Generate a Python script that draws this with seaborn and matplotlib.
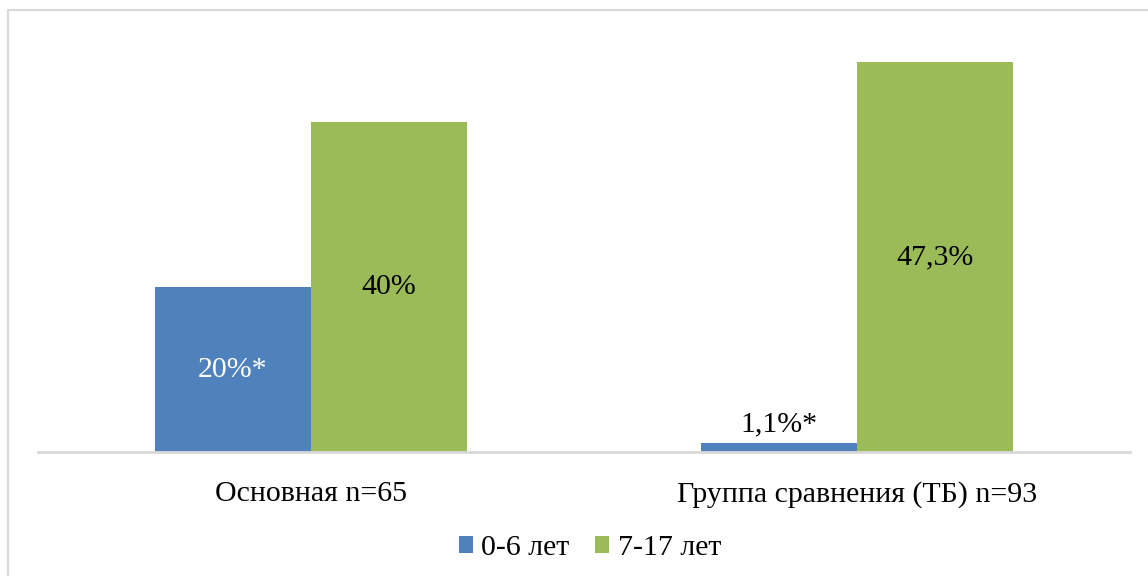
import matplotlib
matplotlib.use("Agg")
import matplotlib.pyplot as plt
import seaborn as sns
import pandas as pd
from matplotlib.patches import Rectangle

categories = ["Основная n=65", "Группа сравнения (ТБ) n=93"]
series_names = ["0-6 лет", "7-17 лет"]
values_0_6 = [20.0, 1.1]
values_7_17 = [40.0, 47.3]
labels_0_6 = ["20%*", "1,1%*"]
labels_7_17 = ["40%", "47,3%"]

sns.set_theme(style="white")
plt.rcParams['font.family'] = ['Liberation Serif', 'DejaVu Serif']
plt.rcParams['text.color'] = 'black'

df = pd.DataFrame({
    "group": categories * 2,
    "series": [series_names[0]] * 2 + [series_names[1]] * 2,
    "value": values_0_6 + values_7_17,
})

W, H = 1148, 576
fig = plt.figure(figsize=(W / 100, H / 100), dpi=100)
ax = fig.add_axes([38 / W, (H - 452) / H, (1130 - 38) / W, (452 - 40) / H])

palette = {series_names[0]: "#4F81BD", series_names[1]: "#9BBB59"}
sns.barplot(data=df, x="group", y="value", hue="series", order=categories,
            hue_order=series_names, palette=palette, width=312 / 546,
            saturation=1, gap=0, ax=ax, legend=True, linewidth=0)

fs = 21.5
ax.set_ylim(0, 50)
ax.set_xlim(-0.5, 1.5)
ax.set_xlabel("")
ax.set_ylabel("")
ax.set_yticks([])
for s in ["left", "right", "top"]:
    ax.spines[s].set_visible(False)
ax.spines["bottom"].set_color("#D9D9D9")
ax.spines["bottom"].set_linewidth(2)
ax.tick_params(axis="x", length=0, pad=21, labelsize=fs, labelcolor="black")

# data labels
c0, c1 = ax.containers[0], ax.containers[1]
for i, p in enumerate(c0.patches):
    x = p.get_x() + p.get_width() / 2
    h = p.get_height()
    if h > 5:
        ax.text(x, h / 2, labels_0_6[i], ha="center", va="center",
                color="white", fontsize=fs)
    else:
        ax.text(x, h + 2.3, labels_0_6[i], ha="center", va="center",
                color="black", fontsize=fs)
for i, p in enumerate(c1.patches):
    x = p.get_x() + p.get_width() / 2
    h = p.get_height()
    ax.text(x, h / 2, labels_7_17[i], ha="center", va="center",
            color="black", fontsize=fs)

leg = ax.legend(loc="center", bbox_to_anchor=(590 / W, (H - 548) / H),
                bbox_transform=fig.transFigure, ncol=2, frameon=False,
                fontsize=fs, handlelength=0.48, handleheight=0.48,
                handletextpad=0.28, columnspacing=0.85)
for t in leg.get_texts():
    t.set_color("black")

fig.patches.append(Rectangle((8 / W, -0.1), 1.2, 1 - 10 / H + 0.1,
                             transform=fig.transFigure, fill=False,
                             edgecolor="#D9D9D9", linewidth=1.5))

fig.savefig("out.png", dpi=100, facecolor="white")
